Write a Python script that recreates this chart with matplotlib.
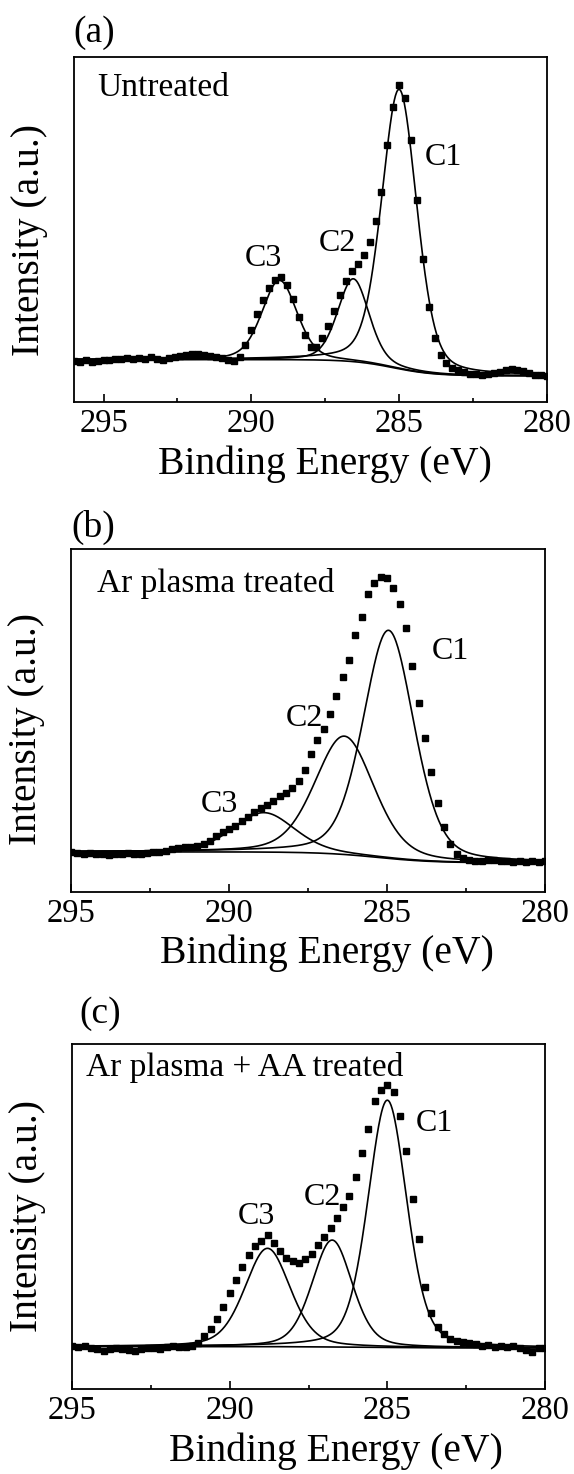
import numpy as np
import matplotlib.pyplot as plt

plt.rcParams['font.family'] = ['Liberation Serif', 'DejaVu Serif']

W, H = 574, 1474

# ---- (a) untreated: measured C 1s points, 296 -> 280 eV, 0.2 eV step ----
energy_a = np.round(np.arange(296.0, 279.99, -0.2), 1)
counts_a = [12.0, 11.6, 12.1, 11.7, 11.9, 12.3, 12.1, 12.6, 12.4, 12.8,
            12.5, 12.7, 12.4, 12.9, 12.6, 12.3, 12.7, 13.1, 13.4, 13.7,
            13.9, 13.8, 13.5, 13.2, 12.9, 12.7, 12.3, 11.8, 13.0, 16.5,
            21.0, 25.5, 29.5, 33.0, 35.5, 36.2, 34.0, 30.0, 24.5, 19.5,
            16.0, 15.8, 18.5, 22.0, 26.5, 31.0, 35.0, 38.0, 40.0, 42.5,
            46.5, 52.5, 61.0, 74.5, 85.5, 92.0, 88.0, 76.0, 58.5, 41.5,
            27.5, 18.5, 13.5, 11.3, 10.0, 9.2, 8.6, 8.2, 8.0, 7.9,
            8.1, 8.4, 8.8, 9.3, 9.6, 9.4, 8.9, 8.3, 7.9, 7.7,
            7.5]
# fitted components C1, C2, C3: position (eV), height, FWHM (eV)
pos_a = [285.0, 286.55, 289.05]
height_a = [81.0, 24.0, 23.0]
fwhm_a = [1.40, 1.25, 1.40]
# background step: low side, high side, centre, width
bg_a = [7.6, 12.3, 285.2, 0.7]

# ---- (b) Ar plasma treated, 295 -> 280 eV ----
energy_b = np.round(np.arange(295.0, 279.99, -0.2), 1)
counts_b = [11.8, 11.4, 11.2, 11.5, 11.0, 11.2, 10.9, 11.1, 11.0, 11.3,
            11.2, 11.1, 11.4, 11.6, 11.8, 12.0, 12.4, 12.8, 13.0, 13.2,
            13.3, 14.0, 15.0, 16.3, 17.4, 18.3, 19.3, 20.6, 22.0, 23.4,
            24.6, 25.5, 26.6, 27.9, 29.0, 30.4, 32.5, 35.6, 40.2, 44.3,
            47.6, 52.0, 57.2, 62.8, 67.5, 75.0, 80.3, 86.8, 90.2, 91.8,
            91.5, 88.5, 84.0, 77.0, 66.0, 55.0, 45.0, 35.0, 26.0, 19.0,
            14.0, 11.0, 9.8, 9.2, 9.0, 8.9, 9.2, 9.4, 9.0, 9.1,
            8.8, 8.9, 8.7, 9.0, 8.8, 8.9]
pos_b = [284.95, 286.35, 288.9]
height_b = [66.5, 34.5, 11.5]
fwhm_b = [1.90, 2.20, 2.30]
bg_b = [8.5, 11.7, 285.3, 0.9]

# ---- (c) Ar plasma + AA treated, 295 -> 280 eV ----
energy_c = np.round(np.arange(295.0, 279.99, -0.2), 1)
counts_c = [12.4, 12.1, 12.6, 12.0, 11.6, 11.0, 11.6, 11.9, 11.5, 11.3,
            10.9, 11.5, 11.8, 12.0, 11.7, 12.1, 12.4, 12.2, 12.3, 12.6,
            13.4, 15.3, 17.5, 20.2, 23.8, 27.8, 31.5, 35.3, 38.8, 41.5,
            43.0, 44.5, 42.3, 40.0, 38.0, 37.0, 36.5, 37.6, 39.2, 41.6,
            44.0, 46.6, 49.6, 52.8, 56.0, 61.5, 68.5, 75.5, 83.5, 86.8,
            88.2, 86.0, 79.0, 69.0, 55.0, 43.5, 29.5, 22.0, 18.0, 15.8,
            14.6, 13.9, 13.5, 13.2, 12.9, 12.6, 12.8, 12.3, 12.5, 12.1,
            12.4, 12.0, 11.2, 10.6, 11.8, 12.0]
pos_c = [285.0, 286.75, 288.8]
height_c = [71.7, 31.0, 28.5]
fwhm_c = [1.45, 1.50, 1.70]
bg_c = [11.9, 12.3, 286.0, 1.0]

titles = ['Untreated', 'Ar plasma treated', 'Ar plasma + AA treated']
tags = ['(a)', '(b)', '(c)']
peak_names = ['C1', 'C2', 'C3']
xlims = [(296, 280), (295, 280), (295, 280)]
# label positions (eV, % of axis height)
label_xy = [[(283.5, 71.0), (287.1, 46.0), (289.6, 41.5)],
            [(283.0, 70.0), (287.6, 50.5), (290.3, 25.5)],
            [(283.5, 77.0), (287.05, 55.5), (289.15, 50.0)]]

# axes boxes in pixels: left, top, right, bottom
boxes = [(74, 57, 547, 402), (71, 549, 545, 892), (72, 1044, 545, 1389)]
tag_px = [(73, 33), (71, 527), (79, 1014)]
title_xy = [(0.05, 0.91), (0.055, 0.90), (0.03, 0.933)]
xlab_x = [0.53, 0.54, 0.558]
ylab_y = [0.47, 0.475, 0.50]


def pvoigt(x, x0, h, w, eta=0.3):
    g = np.exp(-4 * np.log(2) * (x - x0) ** 2 / w ** 2)
    l = 1.0 / (1 + 4 * (x - x0) ** 2 / w ** 2)
    return h * ((1 - eta) * g + eta * l)


def background(x, p):
    lo, hi, x0, s = p
    return lo + (hi - lo) / (1 + np.exp(-(x - x0) / s))


fig = plt.figure(figsize=(W / 100, H / 100), dpi=100)

panels = [(energy_a, counts_a, pos_a, height_a, fwhm_a, bg_a),
          (energy_b, counts_b, pos_b, height_b, fwhm_b, bg_b),
          (energy_c, counts_c, pos_c, height_c, fwhm_c, bg_c)]

for i, (e, y, pos, hgt, fw, bg) in enumerate(panels):
    l, t, r, b = boxes[i]
    ax = fig.add_axes([l / W, 1 - b / H, (r - l) / W, (b - t) / H])

    xs = np.linspace(xlims[i][0], xlims[i][1], 800)
    base = background(xs, bg)
    ax.plot(xs, base, color='black', lw=1.2, zorder=2)
    for x0, h, w in zip(pos, hgt, fw):
        ax.plot(xs, base + pvoigt(xs, x0, h, w), color='black', lw=1.2, zorder=2)

    ax.plot(e, y, ls='none', marker='s', ms=4.4, color='black', mec='black', zorder=3)

    for name, (px, py) in zip(peak_names, label_xy[i]):
        ax.text(px, py, name, fontsize=23, ha='center', va='center')
    ax.text(title_xy[i][0], title_xy[i][1], titles[i], transform=ax.transAxes,
            fontsize=24, ha='left', va='center')

    ax.set_xlim(*xlims[i])
    ax.set_ylim(0, 100)
    ax.set_xticks([295, 290, 285, 280])
    ax.set_xticks([292.5, 287.5, 282.5], minor=True)
    ax.set_yticks([])
    ax.tick_params(axis='x', which='major', direction='in', length=6, width=1.2,
                   labelsize=23.5, pad=5, top=False)
    ax.tick_params(axis='x', which='minor', direction='in', length=3, width=1.2, top=False)
    for s in ax.spines.values():
        s.set_linewidth(1.3)

    ax.set_xlabel('Binding Energy (eV)', fontsize=28.5, va='top')
    ax.xaxis.set_label_coords(xlab_x[i], -0.125)
    ax.set_ylabel('Intensity (a.u.)', fontsize=28.5)
    ax.yaxis.set_label_coords(-0.055, ylab_y[i])

    fig.text(tag_px[i][0] / W, 1 - tag_px[i][1] / H, tags[i], fontsize=27,
             ha='left', va='center')

fig.savefig('out.png', dpi=100)
